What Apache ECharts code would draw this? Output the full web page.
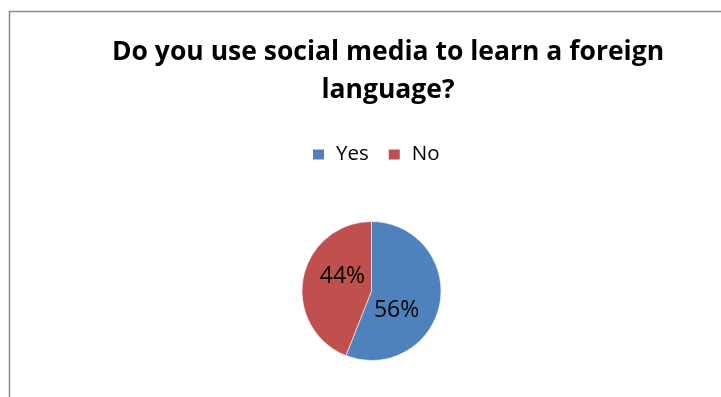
<!DOCTYPE html>
<html>
<head>
<meta charset="utf-8">
<script src="https://cdn.jsdelivr.net/npm/echarts@6/dist/echarts.min.js"></script>
<style>
  html, body { margin: 0; padding: 0; background: #fff; }
  #chart { width: 721px; height: 397px; }
</style>
</head>
<body>
<div id="chart"></div>
<script>
// Survey answers: share of respondents, in percent
const categories = ['Yes', 'No'];
const shares = [56, 44];
const chartTitle = 'Do you use social media to learn a foreign\nlanguage?';

const chart = echarts.init(document.getElementById('chart'), null, { renderer: 'canvas' });

// nudges so each percentage sits where the slice label reads best
const labelNudge = [[-12, 12], [8, -7]];

chart.setOption({
  animation: false,
  backgroundColor: '#ffffff',
  color: ['#4F81BD', '#C0504D'],
  title: {
    text: chartTitle,
    left: 383,
    top: 28,
    textAlign: 'center',
    textStyle: {
      fontFamily: 'Open Sans',
      fontWeight: 'bold',
      fontSize: 26.5,
      lineHeight: 38,
      color: '#000'
    }
  },
  legend: {
    data: categories,
    left: 306,
    top: 139,
    itemWidth: 13,
    itemHeight: 12,
    itemGap: 18,
    icon: 'rect',
    textStyle: {
      fontFamily: 'Open Sans',
      fontSize: 20.5,
      color: '#000',
      padding: [0, 0, 0, 6]
    }
  },
  graphic: [{
    type: 'rect',
    silent: true,
    shape: { x: 9.5, y: 11.5, width: 900, height: 600 },
    style: { fill: 'none', stroke: '#8a8a8a', lineWidth: 1.5 }
  }],
  series: [{
    type: 'pie',
    center: [371.5, 291],
    radius: 69.5,
    startAngle: 90,
    clockwise: true,
    itemStyle: { borderColor: '#ffffff', borderWidth: 0.6 },
    label: {
      show: true,
      position: 'inside',
      formatter: '{c}%',
      fontFamily: 'Open Sans',
      fontSize: 23,
      color: '#000'
    },
    labelLine: { show: false },
    emphasis: { disabled: true },
    labelLayout: function (params) {
      const n = labelNudge[params.dataIndex];
      return { dx: n[0], dy: n[1] };
    },
    data: categories.map(function (name, i) {
      return { name: name, value: shares[i] };
    })
  }]
});
</script>
</body>
</html>
